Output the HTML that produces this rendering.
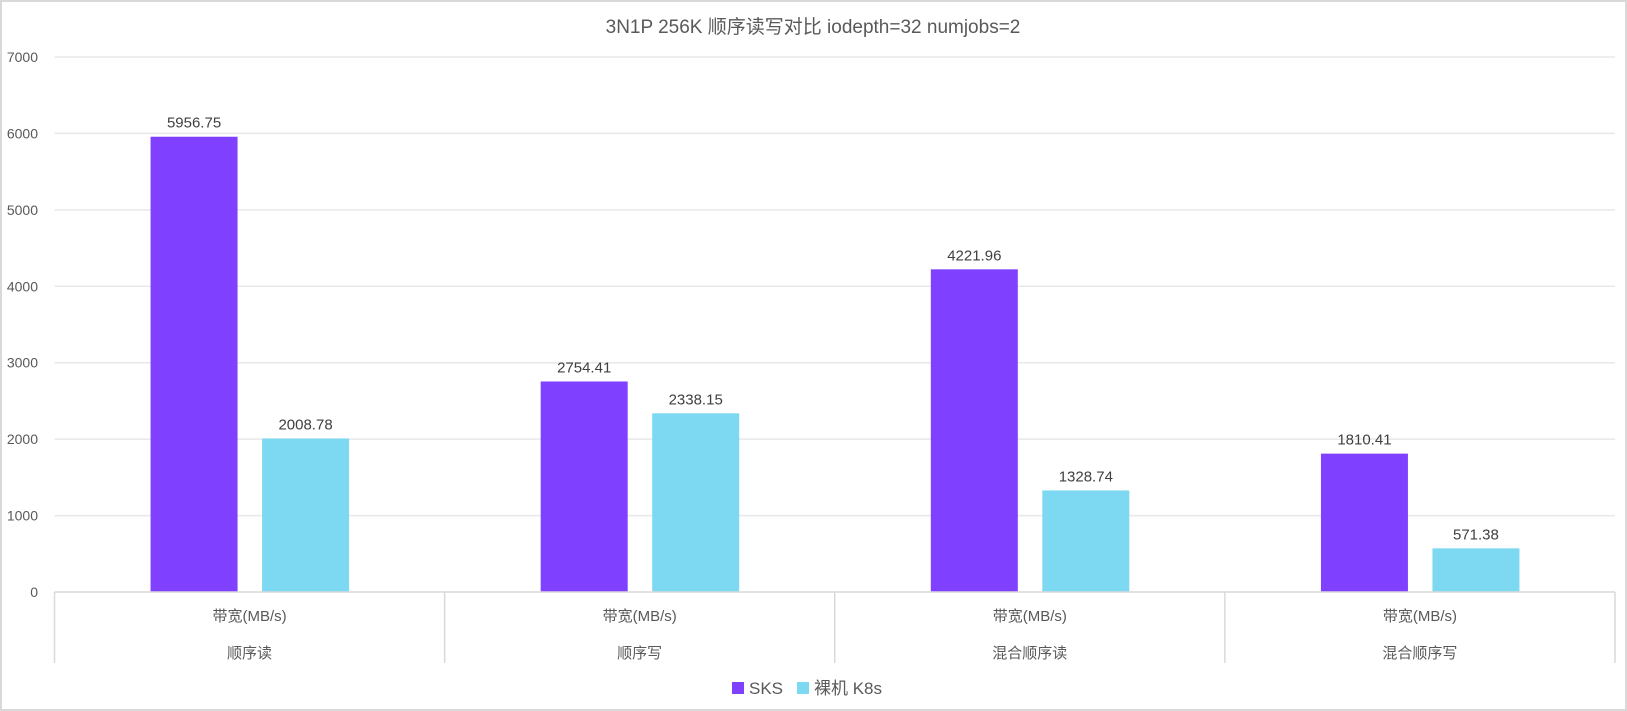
<!DOCTYPE html>
<html><head><meta charset="utf-8"><style>
html,body{margin:0;padding:0;background:#fff;}
svg{display:block;font-family:"Liberation Sans","Noto Sans CJK SC",sans-serif;}
</style></head><body>
<svg id="chart" width="1627" height="711" viewBox="0 0 1627 711">
<rect x="1" y="1" width="1625" height="709" fill="#fff" stroke="#d9d9d9" stroke-width="2"/>
<text x="813" y="33" text-anchor="middle" font-size="19" fill="#595959">3N1P 256K 顺序读写对比 iodepth=32 numjobs=2</text>
<g id="grid"></g><g id="bars"></g><g id="xaxis"></g>
<g>
<rect x="732" y="682" width="12" height="12" fill="#8040ff"/>
<text x="749" y="694" font-size="17" fill="#595959">SKS</text>
<rect x="797" y="682" width="12" height="12" fill="#7dd9f2"/>
<text x="814" y="694" font-size="17" fill="#595959">裸机 K8s</text>
</g>
</svg>
<script>
const categories=["顺序读","顺序写","混合顺序读","混合顺序写"];
const metric="带宽(MB/s)";
const sksValues=[5956.75,2754.41,4221.96,1810.41];
const k8sValues=[2008.78,2338.15,1328.74,571.38];
const yTicks=[0,1000,2000,3000,4000,5000,6000,7000];
const NS="http://www.w3.org/2000/svg";
const L=54.5,R=1615,Y0=592,Y7=57,YMAX=7000;
const y=v=>Y0-(v/YMAX)*(Y0-Y7);
const cw=(R-L)/categories.length;
const xc=i=>L+cw*(i+0.5);
function mk(t,a,p){const e=document.createElementNS(NS,t);for(const k in a)e.setAttribute(k,a[k]);p.appendChild(e);return e;}
const grid=document.getElementById('grid'),bars=document.getElementById('bars'),xa=document.getElementById('xaxis');
yTicks.forEach(t=>{
 if(t>0){const l=mk('line',{x1:L,x2:R,y1:y(t),y2:y(t),stroke:'#e8e8e8','stroke-width':1.5},grid);
 
 }
 const tx=mk('text',{x:38,y:y(t)+5,'text-anchor':'end','font-size':14,fill:'#595959'},grid);tx.textContent=t;
 
 
});
const ax=mk('line',{x1:L,x2:R,y1:Y0,y2:Y0,stroke:'#d9d9d9','stroke-width':1.5},xa);


for(let i=0;i<=categories.length;i++){const s=mk('line',{x1:L+cw*i,x2:L+cw*i,y1:Y0,y2:663,stroke:'#d9d9d9','stroke-width':1.5},xa);
 
 }
const bw=87;
function bar(i,v,off,col,nm){
 const r=mk('rect',{x:xc(i)+off,y:y(v),width:bw,height:Y0-y(v),fill:col},bars);
 
 
 const t=mk('text',{x:xc(i)+off+bw/2,y:y(v)-9,'text-anchor':'middle','font-size':15,fill:'#404040'},bars);t.textContent=v.toFixed(2).replace(/0$/,'').replace(/\.$/,'');
 t.textContent=String(v);
 
 
}
categories.forEach((c,i)=>{
 bar(i,sksValues[i],-99,'#8040ff','sks');
 bar(i,k8sValues[i],12.5,'#7dd9f2','k8s');
 const m=mk('text',{x:xc(i),y:621,'text-anchor':'middle','font-size':15,fill:'#595959'},xa);m.textContent=metric;
 
 
 const t=mk('text',{x:xc(i),y:658,'text-anchor':'middle','font-size':15,fill:'#595959'},xa);t.textContent=c;
 
 
});
</script>
</body></html>
